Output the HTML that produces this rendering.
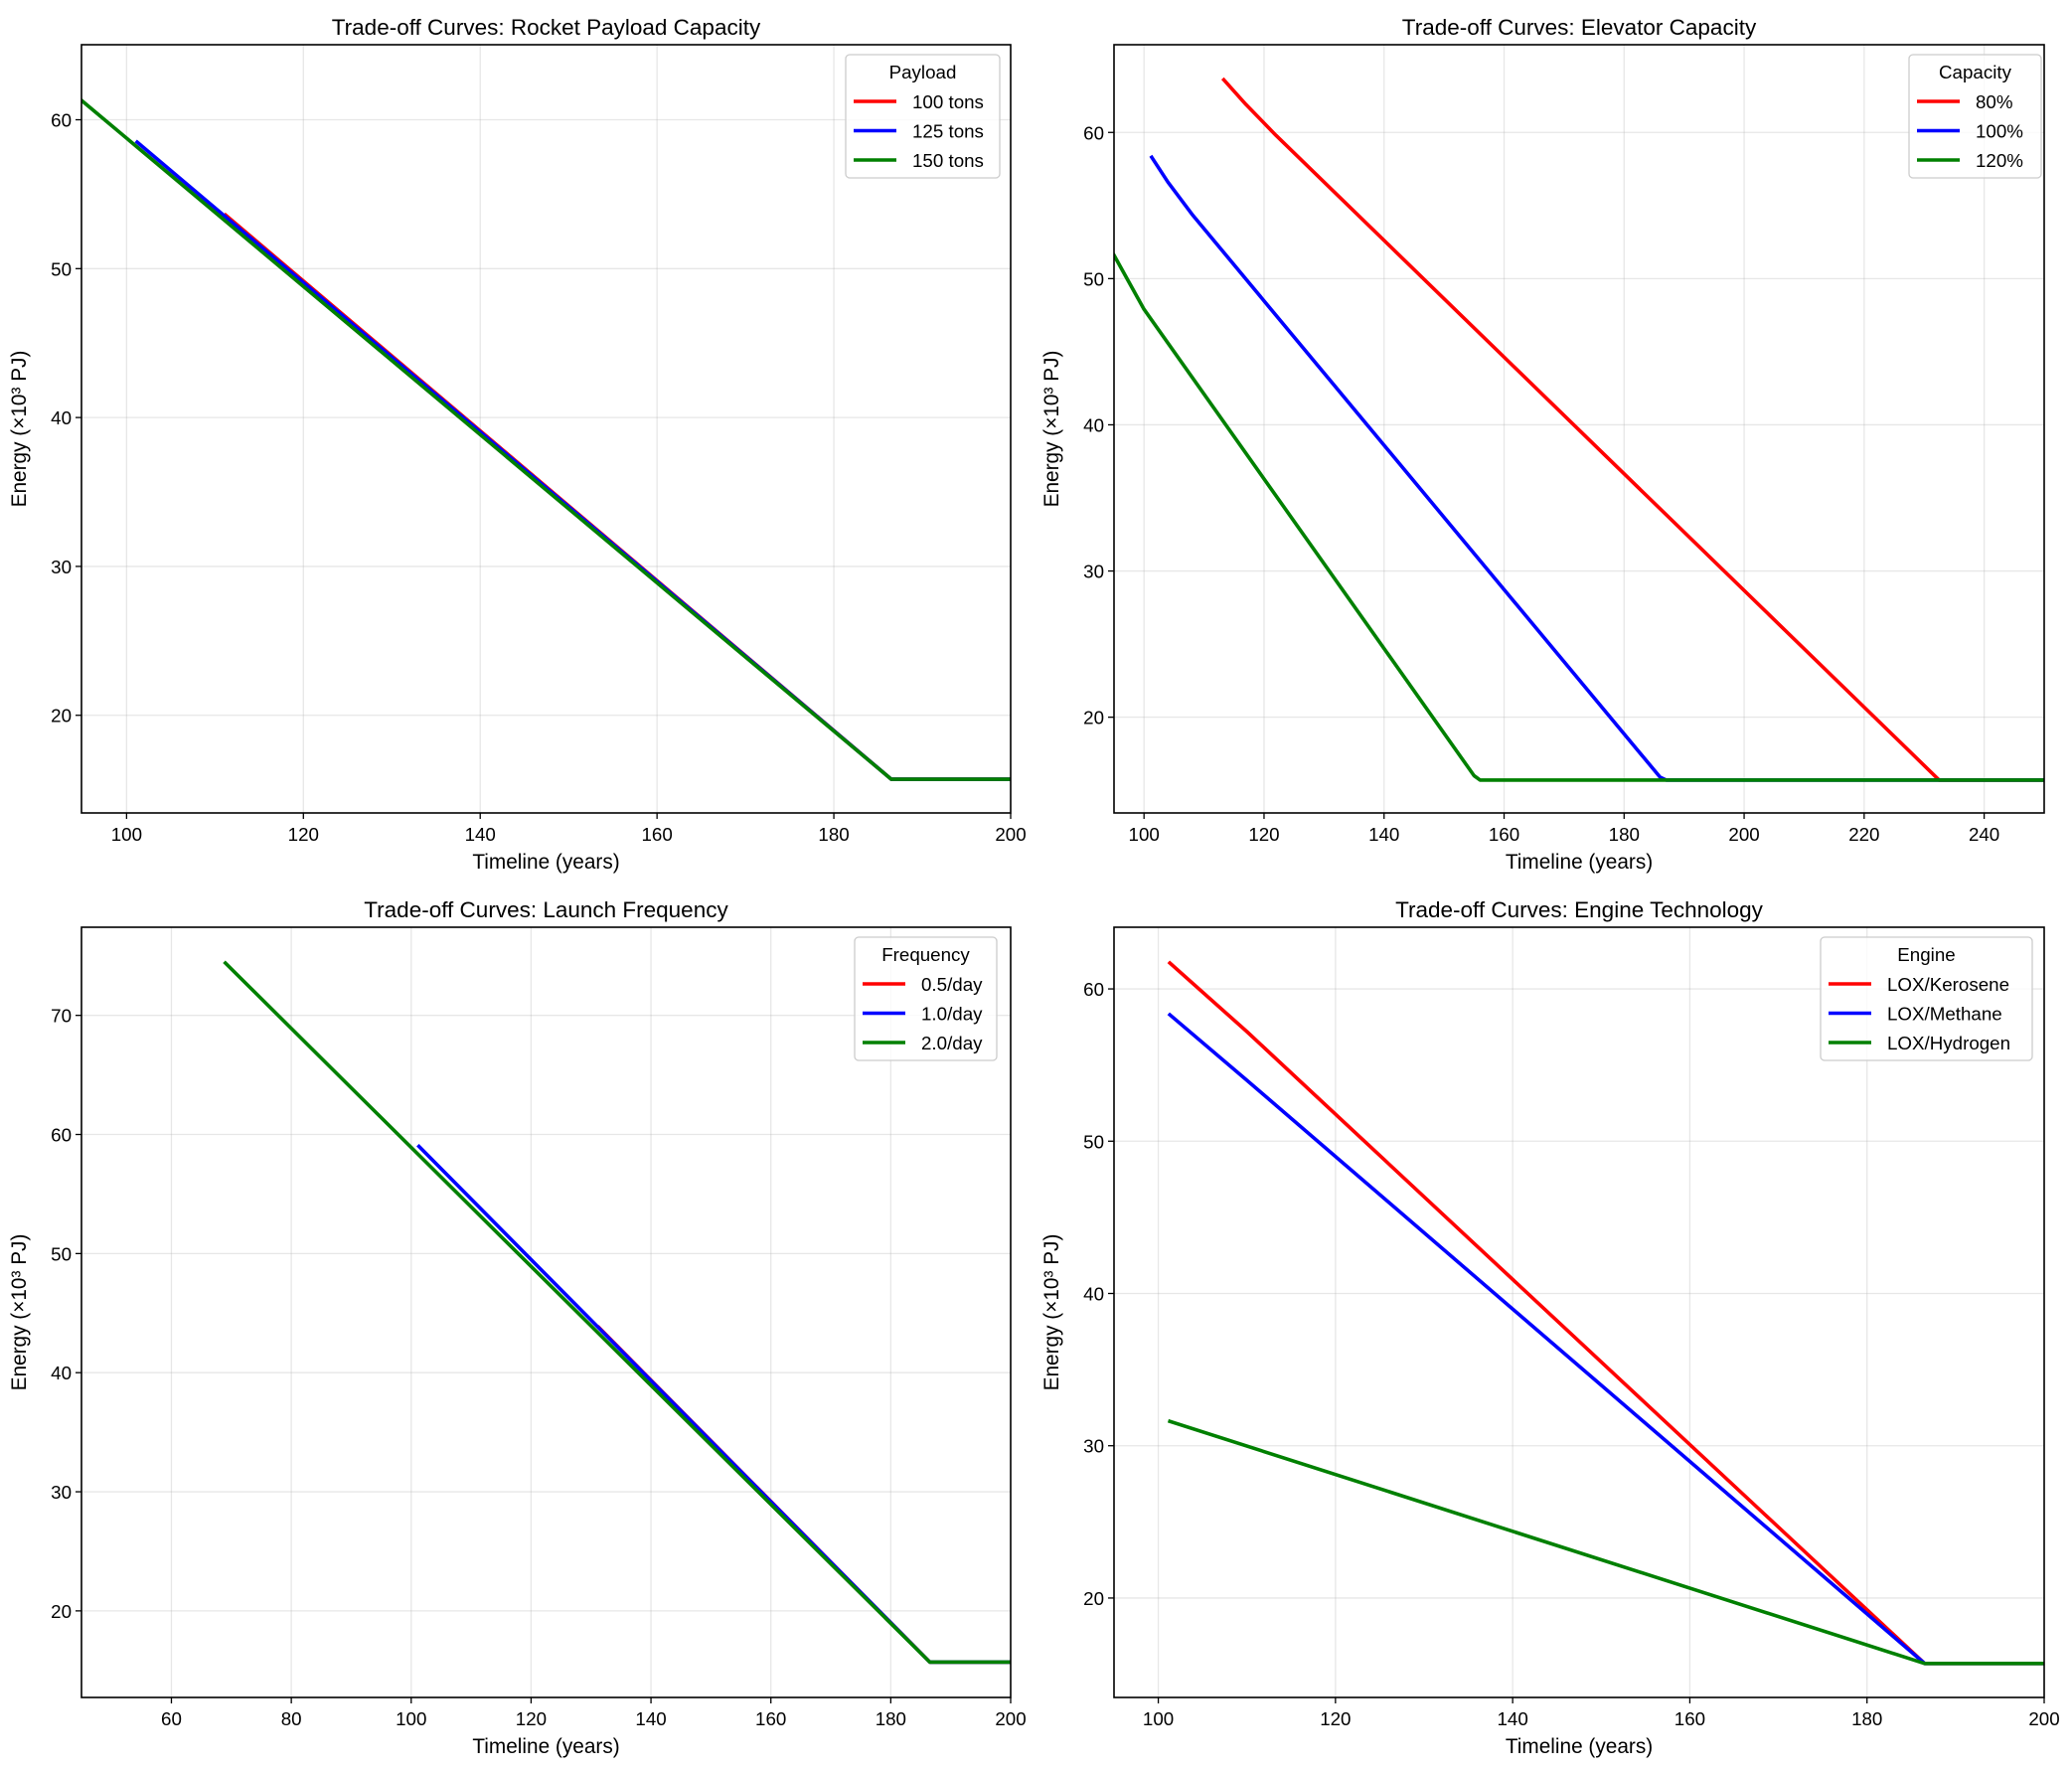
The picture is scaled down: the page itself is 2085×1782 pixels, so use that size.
<!DOCTYPE html>
<html><head><meta charset="utf-8"><style>
body{margin:0;background:#fff}
svg{display:block;font-family:"Liberation Sans",Arial,sans-serif}
</style></head><body>
<svg id="s" width="2085" height="1782" xmlns="http://www.w3.org/2000/svg"></svg>
<script>
const S=document.getElementById('s');let h='';
const panels=[
{L:82,R:1017,T:45,B:818,x0:94.9,x1:200,y0:13.44,y1:65.04,xt:[100,120,140,160,180,200],yt:[20,30,40,50,60],
 title:'Trade-off Curves: Rocket Payload Capacity',lt:'Payload',lx:851,lw:155,
 ser:[['red','100 tons',[[111.2,53.6],[186.5,15.7],[200,15.7]]],['blue','125 tons',[[101.2,58.5],[186.5,15.7],[200,15.7]]],['green','150 tons',[[94.9,61.3],[186.5,15.7],[200,15.7]]]]},
{L:1121,R:2057,T:45,B:818,x0:95,x1:250,y0:13.45,y1:66,xt:[100,120,140,160,180,200,220,240],yt:[20,30,40,50,60],
 title:'Trade-off Curves: Elevator Capacity',lt:'Capacity',lx:1921,lw:133,
 ser:[['red','80%',[[113.3,63.6],[117,61.9],[122,59.8],[232.5,15.7],[250,15.7]]],['blue','100%',[[101.3,58.3],[104,56.6],[108,54.4],[186,15.9],[187,15.7],[250,15.7]]],['green','120%',[[95,51.6],[100,47.9],[155,16.0],[156,15.7],[250,15.7]]]]},
{L:82,R:1017,T:933,B:1708,x0:45,x1:200,y0:12.73,y1:77.4,xt:[60,80,100,120,140,160,180,200],yt:[20,30,40,50,60,70],
 title:'Trade-off Curves: Launch Frequency',lt:'Frequency',lx:860,lw:143,
 ser:[['red','0.5/day',[[131.3,43.8],[186.5,15.7],[200,15.7]]],['blue','1.0/day',[[101.3,59.0],[186.5,15.7],[200,15.7]]],['green','2.0/day',[[69,74.4],[186.5,15.7],[200,15.7]]]]},
{L:1121,R:2057,T:933,B:1708,x0:95,x1:200,y0:13.47,y1:64.05,xt:[100,120,140,160,180,200],yt:[20,30,40,50,60],
 title:'Trade-off Curves: Engine Technology',lt:'Engine',lx:1832,lw:213,
 ser:[['red','LOX/Kerosene',[[101.3,61.7],[110,57.2],[186.5,15.7],[200,15.7]]],['blue','LOX/Methane',[[101.3,58.3],[110,54.0],[186.5,15.7],[200,15.7]]],['green','LOX/Hydrogen',[[101.3,31.6],[186.5,15.7],[200,15.7]]]]}
];
panels.forEach((p,i)=>{
 const X=v=>p.L+(v-p.x0)/(p.x1-p.x0)*(p.R-p.L), Y=v=>p.B-(v-p.y0)/(p.y1-p.y0)*(p.B-p.T);
 h+=`<defs><clipPath id="c${i}"><rect x="${p.L}" y="${p.T}" width="${p.R-p.L}" height="${p.B-p.T}"/></clipPath></defs>`;
 p.xt.forEach(t=>{const x=X(t);h+=`<line x1="${x}" x2="${x}" y1="${p.T}" y2="${p.B}" stroke="#b0b0b0" stroke-opacity="0.3" stroke-width="1.3"/><line x1="${x}" x2="${x}" y1="${p.B}" y2="${p.B+6}" stroke="#000" stroke-width="1.3"/><text x="${x}" y="${p.B+28}" font-size="18.75" text-anchor="middle">${t}</text>`});
 p.yt.forEach(t=>{const y=Y(t);h+=`<line x1="${p.L}" x2="${p.R}" y1="${y}" y2="${y}" stroke="#b0b0b0" stroke-opacity="0.3" stroke-width="1.3"/><line x1="${p.L-6}" x2="${p.L}" y1="${y}" y2="${y}" stroke="#000" stroke-width="1.3"/><text x="${p.L-10}" y="${y+7}" font-size="18.75" text-anchor="end">${t}</text>`});
 p.ser.forEach(s=>{h+=`<polyline clip-path="url(#c${i})" fill="none" stroke="${s[0]}" stroke-width="3.6" stroke-linejoin="round" stroke-linecap="square" points="${s[2].map(q=>X(q[0]).toFixed(1)+','+Y(q[1]).toFixed(1)).join(' ')}"/>`});
 h+=`<rect x="${p.L}" y="${p.T}" width="${p.R-p.L}" height="${p.B-p.T}" fill="none" stroke="#000" stroke-width="1.6"/>`;
 const cx=(p.L+p.R)/2;
 h+=`<text x="${cx}" y="${p.T-10}" font-size="22.5" text-anchor="middle">${p.title}</text>`;
 h+=`<text x="${cx}" y="${p.B+56}" font-size="20.8" text-anchor="middle">Timeline (years)</text>`;
 h+=`<text transform="translate(${p.L-56},${(p.T+p.B)/2}) rotate(-90)" font-size="20.8" text-anchor="middle">Energy (×10³ PJ)</text>`;
 const ly=p.T+10;
 h+=`<rect x="${p.lx}" y="${ly}" width="${p.lw}" height="124" rx="4" fill="#fff" fill-opacity="0.8" stroke="#ccc" stroke-width="1.3"/>`;
 h+=`<text x="${p.lx+p.lw/2}" y="${ly+24}" font-size="18.75" text-anchor="middle">${p.lt}</text>`;
 p.ser.forEach((s,k)=>{const y=ly+47+k*29.5;h+=`<line x1="${p.lx+8}" x2="${p.lx+51}" y1="${y}" y2="${y}" stroke="${s[0]}" stroke-width="3.6"/><text x="${p.lx+67}" y="${y+7}" font-size="18.75">${s[1]}</text>`});
});
S.innerHTML=h;
</script>
</body></html>
